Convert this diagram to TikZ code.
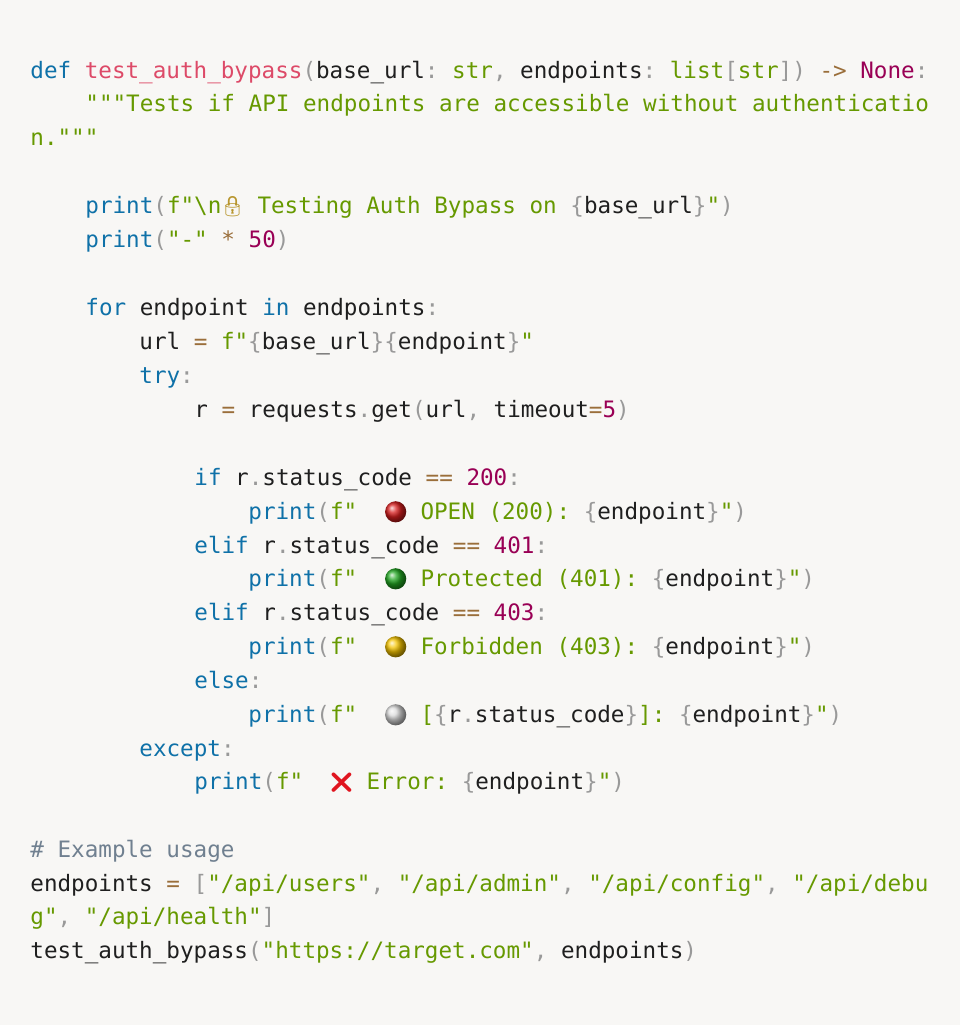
\documentclass[tikz,border=0pt]{standalone}
\usepackage{fontspec}
\usepackage{xcolor}
\setmonofont{DejaVu Sans Mono}
\newfontfamily\emojifont{Noto Emoji}
\usetikzlibrary{positioning}

\definecolor{bgcode}{HTML}{F8F7F5}
\definecolor{txtcode}{HTML}{1F1F1F}
\definecolor{kwcol}{HTML}{0F71A8}
\definecolor{fncol}{HTML}{DD4A68}
\definecolor{stcol}{HTML}{669900}
\definecolor{nmcol}{HTML}{990055}
\definecolor{opcol}{HTML}{9A6E3A}
\definecolor{pucol}{HTML}{999999}
\definecolor{cmcol}{HTML}{708090}
\definecolor{redball}{HTML}{D81E1E}
\definecolor{greenball}{HTML}{22A822}
\definecolor{yellowball}{HTML}{F5C400}
\definecolor{whiteball}{HTML}{DADADA}
\definecolor{lockcol}{HTML}{B8962E}
\definecolor{crosscol}{HTML}{E0151F}

\newlength\cw
\setlength\cw{6.8pt}
\newcommand\ckw[1]{\textcolor{kwcol}{#1}}
\newcommand\cfn[1]{\textcolor{fncol}{#1}}
\newcommand\cst[1]{\textcolor{stcol}{#1}}
\newcommand\cnm[1]{\textcolor{nmcol}{#1}}
\newcommand\cop[1]{\textcolor{opcol}{#1}}
\newcommand\cpu[1]{\textcolor{pucol}{#1}}
\newcommand\ccm[1]{\textcolor{cmcol}{#1}}
\newcommand\emo[2]{\makebox[1.65\cw][c]{\textcolor{#1}{\emojifont\fontsize{10pt}{10pt}\selectfont #2}}}
\newcommand\ball[1]{\makebox[1.65\cw][c]{\tikz[baseline=-3.6pt]\shade[ball color=#1] (0,0) circle (5.3pt);}}

\tikzset{
  codeline/.style={anchor=base west, inner sep=0pt, text=txtcode,
    font=\ttfamily\fontsize{11.3pt}{16.85pt}\selectfont},
}

\begin{document}
\begin{tikzpicture}[x=0.5pt, y=-0.5pt]

\fill[bgcode] (0,0) rectangle (960,1025);
\useasboundingbox (0,0) rectangle (960,1025);

% signature and docstring
\node[codeline] (l1) at (30,78) {\ckw{def} \cfn{test\_auth\_bypass}\cpu{(}base\_url\cpu{:} \cst{str}\cpu{,} endpoints\cpu{:} \cst{list}\cpu{[}\cst{str}\cpu{])} \cop{->} \cnm{None}\cpu{:}};
\node[codeline] (l2) at (85,111) {\cst{"""Tests if API endpoints are accessible without authenticatio}};
\node[codeline] (l3) at (30,145) {\cst{n."""}};

% header
\node[codeline] (l4) at (85,213) {\ckw{print}\cpu{(}\cst{f"\textbackslash n}\emo{lockcol}{🔒}\cst{\ Testing Auth Bypass on }\cpu{\{}base\_url\cpu{\}}\cst{"}\cpu{)}};
\node[codeline] (l5) at (85,247) {\ckw{print}\cpu{(}\cst{"-"} \cop{*} \cnm{50}\cpu{)}};

% loop
\node[codeline] (l6) at (85,315) {\ckw{for} endpoint \ckw{in} endpoints\cpu{:}};
\node[codeline] (l7) at (139,349) {url \cop{=} \cst{f"}\cpu{\{}base\_url\cpu{\}\{}endpoint\cpu{\}}\cst{"}};
\node[codeline] (l8) at (139,383) {\ckw{try}\cpu{:}};
\node[codeline] (l9) at (194,417) {r \cop{=} requests\cpu{.}get\cpu{(}url\cpu{,} timeout\cop{=}\cnm{5}\cpu{)}};

% status checks
\node[codeline] (l10) at (194,485) {\ckw{if} r\cpu{.}status\_code \cop{==} \cnm{200}\cpu{:}};
\node[codeline] (l11) at (248,519) {\ckw{print}\cpu{(}\cst{f"\ \ }\ball{redball}\cst{\ OPEN (200): }\cpu{\{}endpoint\cpu{\}}\cst{"}\cpu{)}};
\node[codeline] (l12) at (194,553) {\ckw{elif} r\cpu{.}status\_code \cop{==} \cnm{401}\cpu{:}};
\node[codeline] (l13) at (248,586) {\ckw{print}\cpu{(}\cst{f"\ \ }\ball{greenball}\cst{\ Protected (401): }\cpu{\{}endpoint\cpu{\}}\cst{"}\cpu{)}};
\node[codeline] (l14) at (194,620) {\ckw{elif} r\cpu{.}status\_code \cop{==} \cnm{403}\cpu{:}};
\node[codeline] (l15) at (248,654) {\ckw{print}\cpu{(}\cst{f"\ \ }\ball{yellowball}\cst{\ Forbidden (403): }\cpu{\{}endpoint\cpu{\}}\cst{"}\cpu{)}};
\node[codeline] (l16) at (194,688) {\ckw{else}\cpu{:}};
\node[codeline] (l17) at (248,722) {\ckw{print}\cpu{(}\cst{f"\ \ }\ball{whiteball}\cst{\ [}\cpu{\{}r\cpu{.}status\_code\cpu{\}}\cst{]: }\cpu{\{}endpoint\cpu{\}}\cst{"}\cpu{)}};
\node[codeline] (l18) at (139,756) {\ckw{except}\cpu{:}};
\node[codeline] (l19) at (194,789) {\ckw{print}\cpu{(}\cst{f"\ \ }\emo{crosscol}{❌}\cst{\ Error: }\cpu{\{}endpoint\cpu{\}}\cst{"}\cpu{)}};

% usage
\node[codeline] (l20) at (30,857) {\ccm{\# Example usage}};
\node[codeline] (l21) at (30,891) {endpoints \cop{=} \cpu{[}\cst{"/api/users"}\cpu{,} \cst{"/api/admin"}\cpu{,} \cst{"/api/config"}\cpu{,} \cst{"/api/debu}};
\node[codeline] (l22) at (30,924) {\cst{g"}\cpu{,} \cst{"/api/health"}\cpu{]}};
\node[codeline] (l23) at (30,958) {test\_auth\_bypass\cpu{(}\cst{"https://target.com"}\cpu{,} endpoints\cpu{)}};

\end{tikzpicture}
\end{document}
